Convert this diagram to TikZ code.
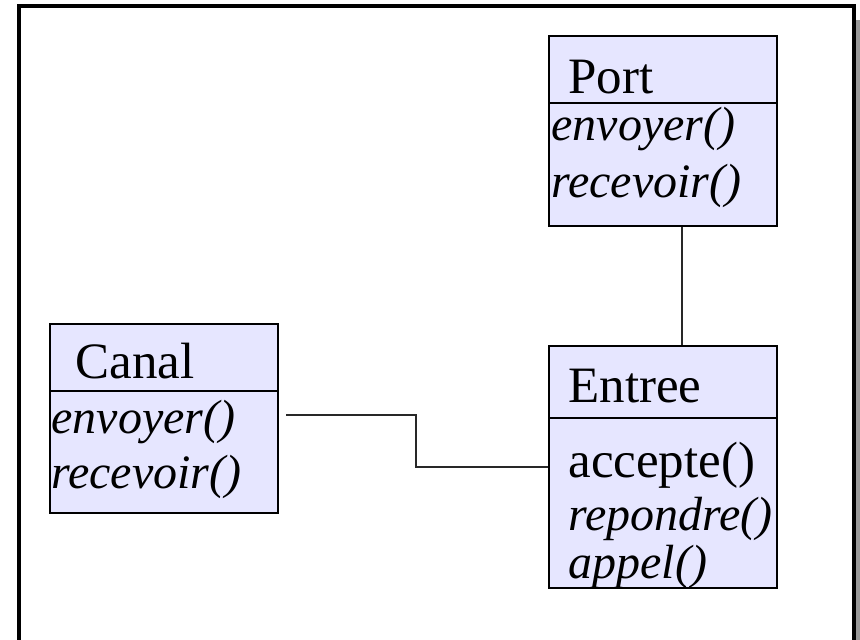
\documentclass[tikz,border=0pt]{standalone}
\usepackage{fontspec}
\setmainfont{Liberation Serif}
\definecolor{lavender}{RGB}{230, 230, 255}
\definecolor{shadowgray}{RGB}{153, 153, 153}
\definecolor{wiregray}{RGB}{40, 40, 40}

\begin{document}
\begin{tikzpicture}[x=0.5pt, y=-0.5pt,
        classbox/.style={draw=black, fill=lavender, line width=1pt, anchor=north west, inner sep=0pt, minimum width=114pt},
        divider/.style={line width=1pt},
        member/.style={anchor=base west, inner sep=0pt, font=\fontsize{25.5}{27}\selectfont},
        method/.style={member, font=\fontsize{24}{27}\selectfont\itshape},
        assoc/.style={draw=wiregray, line width=0.65pt}]
            \useasboundingbox                                          (0, 0) rectangle (860, 639);
            \clip                                                      (0, 0) rectangle (860, 639);
            \fill[shadowgray]                                          (855, 20) rectangle (862, 660);
            \draw[line width=1.8pt]                                    (19, 6) rectangle (854, 660);

            \node[classbox, minimum height=95pt]   (port)   at (548, 35)  {};
            \node[classbox, minimum height=121pt]  (entree) at (548, 345) {};
            \node[classbox, minimum height=94.5pt] (canal)  at (49, 323)  {};

            \draw[divider] (port.west   |- 0, 103) -- (port.east   |- 0, 103);
            \draw[divider] (entree.west |- 0, 418) -- (entree.east |- 0, 418);
            \draw[divider] (canal.west  |- 0, 391) -- (canal.east  |- 0, 391);

            \node[member] (portname)     at (568, 93)  {Port};
            \node[method] (portsend)     at (551, 140) {envoyer()};
            \node[method] (portrecv)     at (551, 197) {recevoir()};

            \node[member] (entreename)   at (568, 402) {Entree};
            \node[member] (entreeaccept) at (568, 477) {accepte()};
            \node[method] (entreereply)  at (568, 530) {repondre()};
            \node[method] (entreecall)   at (568, 578) {appel()};

            \node[member] (canalname)    at (75, 378)  {Canal};
            \node[method] (canalsend)    at (51, 433)  {envoyer()};
            \node[method] (canalrecv)    at (51, 488)  {recevoir()};

            \coordinate (bend) at (416, 440);
            \draw[assoc] ([xshift=9.5pt]port.south) -- ([xshift=9.5pt]entree.north);
            \draw[assoc] ([xshift=3.5pt, yshift=1.75pt]canal.east) -| (bend) |- (entree.west);
        \end{tikzpicture}
\end{document}
